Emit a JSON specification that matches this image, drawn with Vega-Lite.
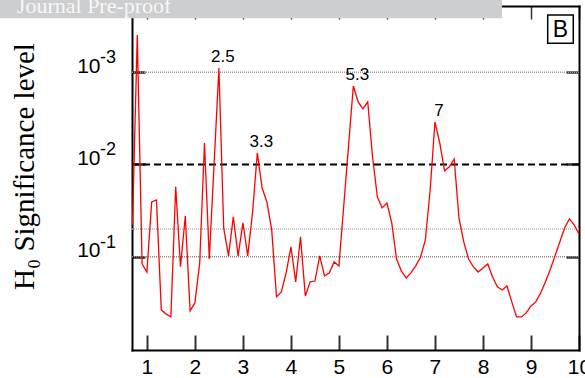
{
  "$schema": "https://vega.github.io/schema/vega-lite/v6.json",
  "width": 447,
  "height": 344,
  "autosize": {"type": "none"},
  "padding": {"left": 132, "top": 6, "right": 6, "bottom": 28},
  "config": {"view": {"stroke": null}, "font": "Liberation Sans"},
  "datasets": {
    "series": [
      {"x": 0.7, "p": 0.0453}, {"x": 0.8, "p": 0.000394}, {"x": 0.9, "p": 0.120}, {"x": 1.0, "p": 0.147},
      {"x": 1.1, "p": 0.0255}, {"x": 1.2, "p": 0.0243}, {"x": 1.3, "p": 0.378}, {"x": 1.4, "p": 0.418},
      {"x": 1.5, "p": 0.451}, {"x": 1.6, "p": 0.0175}, {"x": 1.7, "p": 0.129}, {"x": 1.8, "p": 0.0362},
      {"x": 1.9, "p": 0.388}, {"x": 2.0, "p": 0.318}, {"x": 2.1, "p": 0.117}, {"x": 2.2, "p": 0.00585},
      {"x": 2.3, "p": 0.106}, {"x": 2.4, "p": 0.00989}, {"x": 2.5, "p": 0.000898}, {"x": 2.6, "p": 0.0489},
      {"x": 2.7, "p": 0.0982}, {"x": 2.8, "p": 0.0371}, {"x": 2.9, "p": 0.0982}, {"x": 3.0, "p": 0.0431},
      {"x": 3.1, "p": 0.0982}, {"x": 3.2, "p": 0.0336}, {"x": 3.3, "p": 0.00750}, {"x": 3.4, "p": 0.0180},
      {"x": 3.5, "p": 0.0255}, {"x": 3.6, "p": 0.0513}, {"x": 3.7, "p": 0.273}, {"x": 3.8, "p": 0.242},
      {"x": 3.9, "p": 0.150}, {"x": 4.0, "p": 0.0785}, {"x": 4.1, "p": 0.188}, {"x": 4.2, "p": 0.0611},
      {"x": 4.3, "p": 0.267}, {"x": 4.4, "p": 0.188}, {"x": 4.5, "p": 0.184}, {"x": 4.6, "p": 0.0982},
      {"x": 4.7, "p": 0.162}, {"x": 4.8, "p": 0.150}, {"x": 4.9, "p": 0.114}, {"x": 5.0, "p": 0.126},
      {"x": 5.1, "p": 0.0282}, {"x": 5.2, "p": 0.00629}, {"x": 5.3, "p": 0.00141}, {"x": 5.4, "p": 0.00210},
      {"x": 5.5, "p": 0.00250}, {"x": 5.6, "p": 0.00210}, {"x": 5.7, "p": 0.00830}, {"x": 5.8, "p": 0.0225},
      {"x": 5.9, "p": 0.0296}, {"x": 6.0, "p": 0.0262}, {"x": 6.1, "p": 0.0431}, {"x": 6.2, "p": 0.106},
      {"x": 6.3, "p": 0.143}, {"x": 6.4, "p": 0.170}, {"x": 6.5, "p": 0.150}, {"x": 6.6, "p": 0.126},
      {"x": 6.7, "p": 0.101}, {"x": 6.8, "p": 0.0659}, {"x": 6.9, "p": 0.0189}, {"x": 7.0, "p": 0.00346},
      {"x": 7.1, "p": 0.00585}, {"x": 7.2, "p": 0.0117}, {"x": 7.3, "p": 0.0106}, {"x": 7.4, "p": 0.00871},
      {"x": 7.5, "p": 0.0380}, {"x": 7.6, "p": 0.0693}, {"x": 7.7, "p": 0.106}, {"x": 7.8, "p": 0.129},
      {"x": 7.9, "p": 0.147}, {"x": 8.0, "p": 0.133}, {"x": 8.1, "p": 0.120}, {"x": 8.2, "p": 0.166},
      {"x": 8.3, "p": 0.213}, {"x": 8.4, "p": 0.230}, {"x": 8.5, "p": 0.208}, {"x": 8.6, "p": 0.310},
      {"x": 8.7, "p": 0.451}, {"x": 8.8, "p": 0.451}, {"x": 8.9, "p": 0.408}, {"x": 9.0, "p": 0.343},
      {"x": 9.1, "p": 0.310}, {"x": 9.2, "p": 0.248}, {"x": 9.3, "p": 0.188}, {"x": 9.4, "p": 0.139},
      {"x": 9.5, "p": 0.0982}, {"x": 9.6, "p": 0.0693}, {"x": 9.7, "p": 0.0489}, {"x": 9.8, "p": 0.0390},
      {"x": 9.9, "p": 0.0453}, {"x": 10.0, "p": 0.0568}
    ],
    "peaks": [
      {"x": 2.5, "p": 0.000898, "label": "2.5"},
      {"x": 3.3, "p": 0.00750, "label": "3.3"},
      {"x": 5.3, "p": 0.00141, "label": "5.3"},
      {"x": 7.0, "p": 0.00346, "label": "7"}
    ],
    "exponents": [
      {"p": 0.001, "exp": "-3"},
      {"p": 0.01, "exp": "-2"},
      {"p": 0.1, "exp": "-1"}
    ],
    "notes": [
      {"banner": "Journal Pre-proof", "panel": "B"}
    ]
  },
  "resolve": {"axis": {"x": "independent", "y": "independent"}},
  "layer": [
    {
      "data": {"name": "notes"},
      "mark": {"type": "rule", "color": "#999999", "strokeWidth": 1.5, "strokeDash": [1, 1]},
      "encoding": {"y": {"datum": 0.001, "type": "quantitative", "scale": {"type": "log", "domain": [0.000191, 1.03], "reverse": true, "nice": false, "zero": false}, "axis": null}}
    },
    {
      "data": {"name": "notes"},
      "mark": {"type": "rule", "color": "#b4b4b4", "strokeWidth": 1.5, "strokeDash": [1, 1]},
      "encoding": {"y": {"datum": 0.05, "type": "quantitative", "axis": null}}
    },
    {
      "data": {"name": "notes"},
      "mark": {"type": "rule", "color": "#888888", "strokeWidth": 1.5, "strokeDash": [1, 1]},
      "encoding": {"y": {"datum": 0.1, "type": "quantitative", "axis": null}}
    },
    {
      "data": {"name": "notes"},
      "mark": {"type": "rule", "color": "#000000", "strokeWidth": 2, "strokeDash": [7, 4]},
      "encoding": {"y": {"datum": 0.01, "type": "quantitative", "axis": {"orient": "right", "values": [0.001, 0.01, 0.1], "labels": false, "title": null, "grid": false, "tickSize": -13, "tickWidth": 2.5, "tickColor": "#333333", "domainColor": "#000000", "domainWidth": 2, "domainCap": "square"}}}
    },
    {
      "data": {"name": "series"},
      "mark": {"type": "line", "color": "#ff0000", "strokeWidth": 1.3},
      "encoding": {
        "x": {"field": "x", "type": "quantitative", "scale": {"domain": [0.69, 10], "nice": false, "zero": false},
          "axis": {"orient": "bottom", "values": [1, 2, 3, 4, 5, 6, 7, 8, 9, 10], "title": null, "grid": false, "tickSize": -15, "tickWidth": 2, "tickColor": "#333333", "domainColor": "#000000", "domainWidth": 2, "domainCap": "square", "labelFont": "Liberation Sans", "labelFontSize": 21, "labelColor": "#000000", "labelPadding": 21, "labelFlush": false, "labelOverlap": false}},
        "y": {"field": "p", "type": "quantitative",
          "axis": {"orient": "left", "values": [0.001, 0.01, 0.1], "labelExpr": "'10'", "grid": false, "tickSize": -13, "tickWidth": 2.5, "tickColor": "#222222", "domainColor": "#000000", "domainWidth": 2, "domainCap": "square", "labelFont": "Liberation Sans", "labelFontSize": 21, "labelColor": "#000000", "labelPadding": 45, "labelBaseline": "alphabetic", "labelAlign": "right", "labelOverlap": false,
            "title": "H₀ Significance level", "titleFont": "Liberation Serif", "titleFontSize": 29, "titleFontWeight": "normal", "titleColor": "#000000", "titleX": -99, "titleY": 160, "titleAngle": 270, "titleBaseline": "alphabetic", "titleAlign": "center"}}
      }
    },
    {
      "data": {"name": "peaks"},
      "mark": {"type": "text", "fontSize": 17, "font": "Liberation Sans", "color": "#000000", "align": "center", "baseline": "alphabetic", "dx": 4, "dy": -6},
      "encoding": {
        "x": {"field": "x", "type": "quantitative", "axis": {"orient": "top", "values": [1, 2, 3, 4, 5, 6, 7, 8, 9, 10], "labels": false, "title": null, "grid": false, "tickSize": -13, "tickWidth": 1.5, "tickColor": "#333333", "domainColor": "#000000", "domainWidth": 2, "domainCap": "square"}},
        "y": {"field": "p", "type": "quantitative", "axis": null},
        "text": {"field": "label"}
      }
    },
    {
      "data": {"name": "exponents"},
      "mark": {"type": "text", "fontSize": 18, "font": "Liberation Sans", "color": "#000000", "align": "left", "baseline": "alphabetic", "dx": -32, "dy": -9},
      "encoding": {
        "x": {"datum": 0.69, "type": "quantitative", "axis": null},
        "y": {"field": "p", "type": "quantitative", "axis": null},
        "text": {"field": "exp"}
      }
    },
    {
      "data": {"name": "notes"},
      "mark": {"type": "rect", "fill": "#cdced0"},
      "encoding": {
        "x": {"datum": -2.07, "type": "quantitative", "axis": null},
        "x2": {"datum": 8.396},
        "y": {"datum": 0.000164, "type": "quantitative", "axis": null},
        "y2": {"datum": 0.00026}
      }
    },
    {
      "data": {"name": "notes"},
      "mark": {"type": "text", "fontSize": 22, "font": "Liberation Serif", "color": "#f7f7f7", "align": "left", "baseline": "alphabetic"},
      "encoding": {
        "x": {"datum": -1.708, "type": "quantitative", "axis": null},
        "y": {"datum": 0.00023, "type": "quantitative", "axis": null},
        "text": {"field": "banner"}
      }
    },
    {
      "data": {"name": "notes"},
      "mark": {"type": "rect", "fill": "#ffffff", "stroke": "#000000", "strokeWidth": 1.5},
      "encoding": {
        "x": {"datum": 9.348, "type": "quantitative", "axis": null},
        "x2": {"datum": 9.881},
        "y": {"datum": 0.000239, "type": "quantitative", "axis": null},
        "y2": {"datum": 0.000485}
      }
    },
    {
      "data": {"name": "notes"},
      "mark": {"type": "text", "fontSize": 23, "font": "Liberation Sans", "color": "#000000", "align": "center", "baseline": "alphabetic"},
      "encoding": {
        "x": {"datum": 9.615, "type": "quantitative", "axis": null},
        "y": {"datum": 0.000411, "type": "quantitative", "axis": null},
        "text": {"field": "panel"}
      }
    }
  ]
}
